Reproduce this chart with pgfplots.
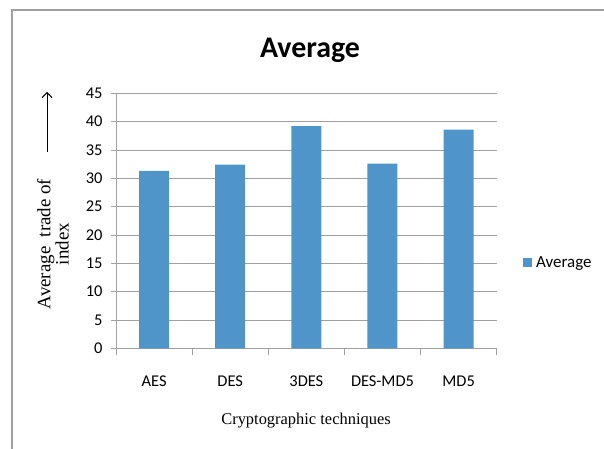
\documentclass[border=0pt]{standalone}
\usepackage{pgfplots}
\pgfplotsset{compat=1.18}
\usepackage{fontspec}
\usetikzlibrary{arrows.meta}
\setmainfont{Liberation Serif}
\newfontfamily\calibri{Carlito}
\definecolor{barblue}{RGB}{79,149,201}
\definecolor{gridgray}{RGB}{160,160,160}
\begin{document}
\begin{tikzpicture}[x=1bp,y=1bp]
\path[use as bounding box] (0,0) rectangle (604,449);
% chart area frame
\draw[color=gridgray, line width=1.5bp] (12,0) -- (12,439) -- (604,439);
% title
\node[font=\calibri\bfseries\fontsize{30}{36}\selectfont, anchor=base] at (310,391) {Average};
% y label with arrow
\draw[line width=1bp, -{Straight Barb[length=5bp,width=10bp]}] (47,297) -- (47,357);
\node[rotate=90, align=center, font=\fontsize{19}{16}\selectfont] at (53,205) {Average\ \ trade of\\index};
% x label
\node[font=\fontsize{16.5}{20}\selectfont] at (306,28) {Cryptographic techniques};
\begin{axis}[
  at={(116bp,100.7bp)}, anchor=south west,
  scale only axis, width=380.7bp, height=255bp,
  xmin=-0.5, xmax=4.5, ymin=0, ymax=45,
  ytick={0,5,...,45},
  xtick={0,...,4}, xticklabels={AES,DES,3DES,DES-MD5,MD5},
  major x tick style={draw=none},
  extra x ticks={-0.5,0.5,...,4.5}, extra x tick labels={},
  extra x tick style={major tick length=7bp, tick align=outside, grid=none,
    major x tick style={draw=gridgray, line width=0.8bp}},
  axis x line*=bottom, axis y line*=left,
  axis line style={draw=gridgray, line width=0.8bp, -},
  ymajorgrids, grid style={draw=gridgray, line width=0.8bp},
  tick align=outside, major tick length=5bp,
  ytick style={draw=gridgray, line width=0.8bp},
  tick label style={font=\calibri\fontsize{16.5}{19}\selectfont},
  /pgf/number format/assume math mode=true,
  yticklabel style={xshift=-5bp},
  xticklabel style={yshift=-19bp},
  ybar, bar width=30bp,
  legend style={draw=none, at={(1.069,0.3345)}, anchor=west, inner sep=0pt,
    font=\calibri\fontsize{17}{19}\selectfont},
  legend image code/.code={\fill[#1] (0bp,-4.5bp) rectangle (9bp,4.5bp);},
]
\addplot[fill=barblue, draw=none] coordinates {(0,31.3) (1,32.4) (2,39.2) (3,32.6) (4,38.6)};
\addlegendentry{\hspace{2bp}Average}
\end{axis}
\end{tikzpicture}
\end{document}
